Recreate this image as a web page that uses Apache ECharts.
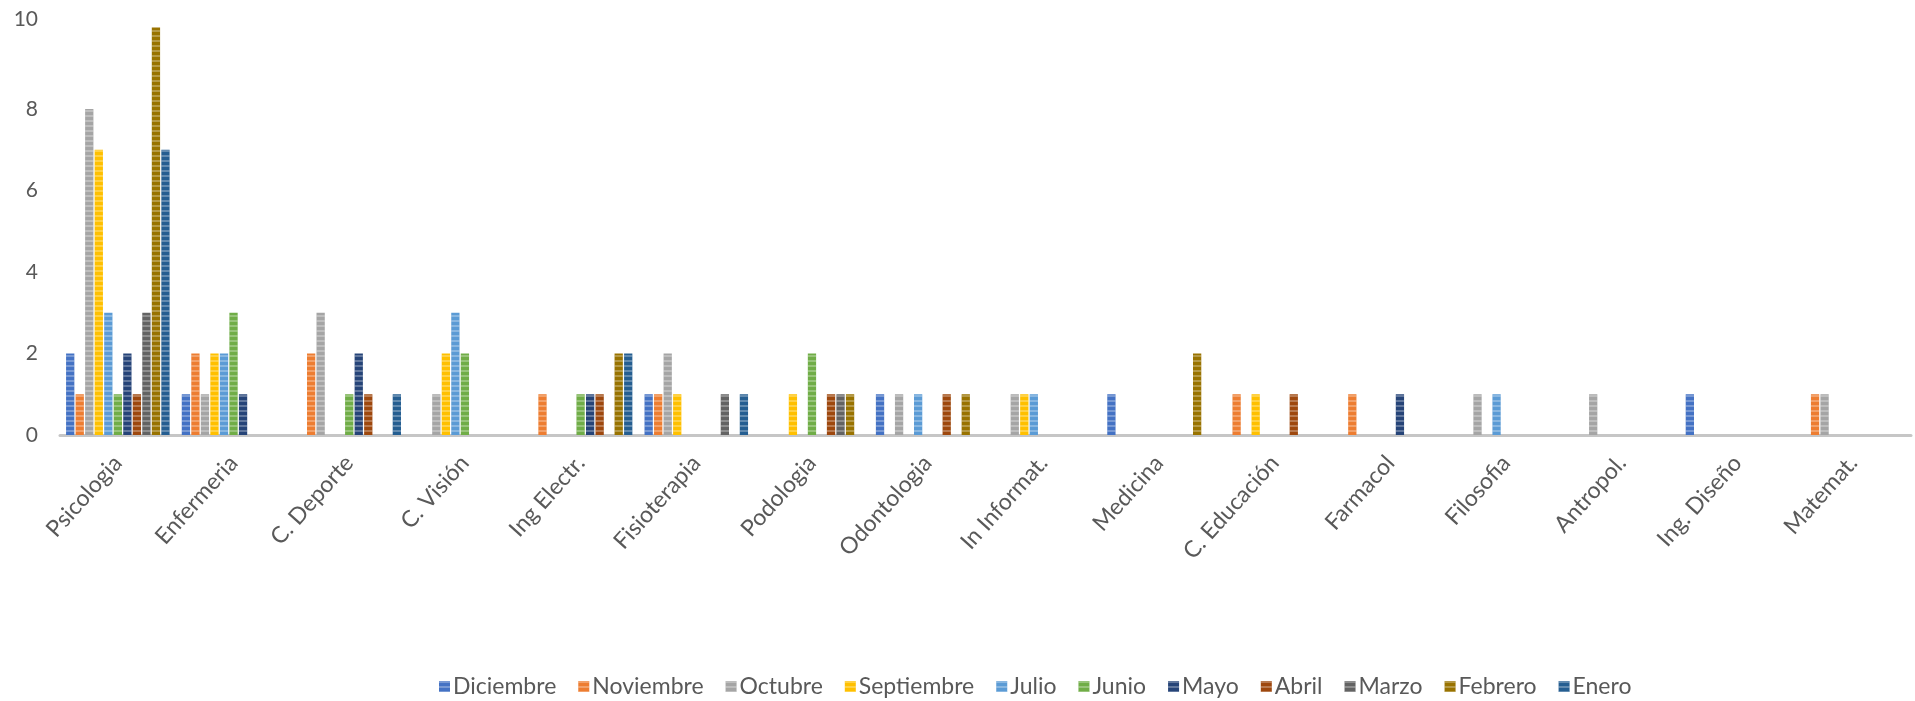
<!DOCTYPE html>
<html>
<head>
<meta charset="utf-8">
<script src="https://cdn.jsdelivr.net/npm/echarts@6/dist/echarts.min.js"></script>
<style>
html,body{margin:0;padding:0;background:#fff;}
#chart{width:1915px;height:701px;}
</style>
</head>
<body>
<div id="chart"></div>
<script>
const categories = ["Psicologia","Enfermeria","C. Deporte","C. Visión","Ing Electr.","Fisioterapia","Podologia","Odontologia","In Informat.","Medicina","C. Educación","Farmacol","Filosofia","Antropol.","Ing. Diseño","Matemat."];
const seriesNames = ["Diciembre","Noviembre","Octubre","Septiembre","Julio","Junio","Mayo","Abril","Marzo","Febrero","Enero"];
const diciembre  = [2,1,0,0,0,1,0,1,0,1,0,0,0,0,1,0];
const noviembre  = [1,2,2,0,1,1,0,0,0,0,1,1,0,0,0,1];
const octubre    = [8,1,3,1,0,2,0,1,1,0,0,0,1,1,0,1];
const septiembre = [7,2,0,2,0,1,1,0,1,0,1,0,0,0,0,0];
const julio      = [3,2,0,3,0,0,0,1,1,0,0,0,1,0,0,0];
const junio      = [1,3,1,2,1,0,2,0,0,0,0,0,0,0,0,0];
const mayo       = [2,1,2,0,1,0,0,0,0,0,0,1,0,0,0,0];
const abril      = [1,0,1,0,1,0,1,1,0,0,1,0,0,0,0,0];
const marzo      = [3,0,0,0,0,1,1,0,0,0,0,0,0,0,0,0];
const febrero    = [10,0,0,0,2,0,1,1,0,2,0,0,0,0,0,0];
const enero      = [7,0,1,0,2,1,0,0,0,0,0,0,0,0,0,0];
const yTicks = [0,2,4,6,8,10];

const seriesData = [diciembre,noviembre,octubre,septiembre,julio,junio,mayo,abril,marzo,febrero,enero];
const colors = ["#4472C4","#ED7D31","#A5A5A5","#FFC000","#5B9BD5","#70AD47","#264478","#9E480E","#636363","#997300","#255E91"];
const FONT = 'Lato, "Open Sans", sans-serif';

const chart = echarts.init(document.getElementById('chart'), null, {renderer:'canvas'});
const option = {
  animation:false,
  color: colors,
  grid:{left:60, right:4, top:27.5, bottom:266, containLabel:false},
  legend:{
    bottom:-2, left:434,
    itemWidth:11, itemHeight:11, itemGap:22,
    icon:'rect',
    textStyle:{color:'#595959', fontSize:23, fontFamily:FONT, padding:[0,0,0,-2]},
    data: seriesNames
  },
  xAxis:{
    type:'category', data:categories,
    axisLine:{show:true, lineStyle:{color:'#C6C6C6', width:3}},
    axisTick:{show:false},
    axisLabel:{rotate:48, color:'#595959', fontSize:23, margin:24, interval:0, fontFamily:FONT},
  },
  yAxis:{
    type:'value', min:yTicks[0], max:yTicks[yTicks.length-1], interval:2,
    axisLine:{show:false}, axisTick:{show:false},
    splitLine:{show:false},
    axisLabel:{color:'#595959', fontSize:21, margin:22, fontFamily:FONT,
      formatter: v => v === yTicks[yTicks.length-1] ? '{top|' + v + '}' : String(v),
      rich:{top:{fontSize:21, color:'#595959', fontFamily:FONT, padding:[0,0,16,0]}}
    }
  },
  series: seriesNames.map((n,i)=>({
    name:n, type:'bar', data:seriesData[i],
    barGap:'15%', barCategoryGap:'10.5%',
    itemStyle:{
      color:colors[i],
      decal:{symbol:'rect', symbolSize:1, dashArrayX:[1,0], dashArrayY:[2,3], color:'rgba(255,255,255,0.28)'}
    }
  }))
};
chart.setOption(option);
</script>
</body>
</html>
